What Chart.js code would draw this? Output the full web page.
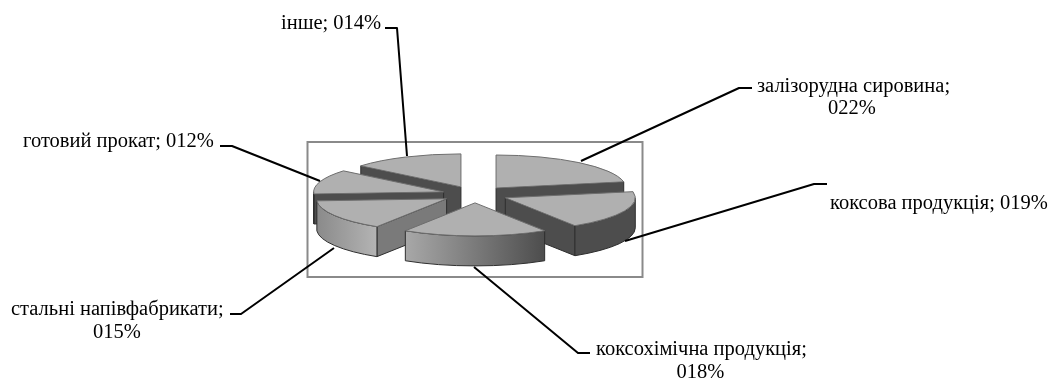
<!DOCTYPE html>
<html lang="uk">
<head>
<meta charset="utf-8">
<title>Структура</title>
<script src="https://cdn.jsdelivr.net/npm/chart.js@4/dist/chart.umd.min.js"></script>
<style>
  html, body { margin: 0; padding: 0; background: #fff; }
  canvas { display: block; }
</style>
</head>
<body>
<canvas id="chart" width="1064" height="379"></canvas>
<script>
// Slices, clockwise from twelve o'clock
const categories = ['залізорудна сировина', 'коксова продукція', 'коксохімічна продукція',
                    'стальні напівфабрикати', 'готовий прокат', 'інше'];
const shares = [22, 19, 18, 15, 12, 14];

// Painter's order for the tilted disc, rear slices first
const paintOrder = [0, 5, 4, 1, 3, 2];

const topColor = '#b0b0b0';
const radialWallColors = ['#4d4d4d', '#4d4d4d', '#4d4d4d', '#7a7a7a', '#4d4d4d', '#4d4d4d'];
const rimStops = [
  ['#4d4d4d', '#4d4d4d'], ['#4d4d4d', '#4d4d4d'], ['#a8a8a8', '#4d4d4d'],
  ['#8a8a8a', '#b4b4b4'], ['#4d4d4d', '#4d4d4d'], ['#4d4d4d', '#4d4d4d']
];

const TILT = 0.254;      // vertical squash of the disc
const DEPTH = 30;        // wall height, px
const EXPLODE = 33;      // slice pull-out, in disc units
const FRAME = { left: 307.5, top: 142, right: 642.5, bottom: 277 };

// Callout text: left x, first baseline y, position of a value wrapped to a second line
const callouts = [
  { x: 757, y: 92,  wrapX: 852, wrapY: 114 },
  { x: 830, y: 209 },
  { x: 596, y: 355, wrapX: 700.5, wrapY: 378 },
  { x: 11,  y: 315, wrapX: 117, wrapY: 338 },
  { x: 23,  y: 147 },
  { x: 281, y: 29 }
];
const leaderPaths = [
  [[752, 88], [739, 88], [581, 161]],
  [[827, 184], [814, 184], [625, 241]],
  [[590, 353], [578, 353], [474, 267]],
  [[230, 314], [241, 314], [334, 248]],
  [[220, 146], [232, 146], [320, 181]],
  [[385, 28], [397, 28], [407, 156]]
];

const formatShare = v => String(v).padStart(3, '0') + '%';

function sliceGeometry(arc) {
  const mid = (arc.startAngle + arc.endAngle) / 2;
  return {
    a: arc.startAngle, b: arc.endAngle, mid,
    ox: Math.cos(mid) * EXPLODE,
    oy: Math.sin(mid) * EXPLODE,
    cx: arc.x + Math.cos(mid) * EXPLODE,
    cy: arc.y + Math.sin(mid) * EXPLODE * TILT,
    rx: arc.outerRadius,
    ry: arc.outerRadius * TILT
  };
}

function drawRadialWall(ctx, g, angle, color) {
  const ex = g.cx + Math.cos(angle) * g.rx;
  const ey = g.cy + Math.sin(angle) * g.ry;
  ctx.beginPath();
  ctx.moveTo(g.cx, g.cy);
  ctx.lineTo(ex, ey);
  ctx.lineTo(ex, ey + DEPTH);
  ctx.lineTo(g.cx, g.cy + DEPTH);
  ctx.closePath();
  ctx.fillStyle = color;
  ctx.fill();
  ctx.lineWidth = 1;
  ctx.strokeStyle = '#2e2e2e';
  ctx.stroke();
}

function drawRim(ctx, g, stops) {
  const lo = Math.max(g.a, 0), hi = Math.min(g.b, Math.PI);
  if (lo >= hi) return;
  const x0 = g.cx + Math.cos(hi) * g.rx, x1 = g.cx + Math.cos(lo) * g.rx;
  const grad = ctx.createLinearGradient(x0, 0, x1, 0);
  grad.addColorStop(0, stops[0]);
  grad.addColorStop(1, stops[1]);
  ctx.beginPath();
  ctx.ellipse(g.cx, g.cy, g.rx, g.ry, 0, lo, hi);
  ctx.ellipse(g.cx, g.cy + DEPTH, g.rx, g.ry, 0, hi, lo, true);
  ctx.closePath();
  ctx.fillStyle = grad;
  ctx.fill();
  ctx.lineWidth = 1;
  ctx.strokeStyle = '#2e2e2e';
  ctx.stroke();
}

function outlineTop(ctx, g) {
  ctx.beginPath();
  ctx.moveTo(g.cx, g.cy);
  ctx.ellipse(g.cx, g.cy, g.rx, g.ry, 0, g.a, g.b);
  ctx.closePath();
  ctx.lineWidth = 1;
  ctx.strokeStyle = '#6e6e6e';
  ctx.stroke();
}

// Draws the library's arcs on a squashed plane and extrudes walls beneath them
const tiltedDisc = {
  id: 'tiltedDisc',
  beforeDatasetsDraw(chart) {
    const ctx = chart.ctx;
    ctx.save();
    ctx.lineWidth = 2;
    ctx.strokeStyle = '#8a8a8a';
    ctx.strokeRect(FRAME.left, FRAME.top, FRAME.right - FRAME.left, FRAME.bottom - FRAME.top);
    ctx.restore();
  },
  beforeDatasetDraw(chart, args) {
    const ctx = chart.ctx;
    const arcs = args.meta.data;
    paintOrder.forEach(i => {
      const arc = arcs[i];
      const g = sliceGeometry(arc);
      ctx.save();
      // Only walls turned toward the viewer are painted
      if (Math.cos(g.a) < -1e-6) drawRadialWall(ctx, g, g.a, radialWallColors[i]);
      if (Math.cos(g.b) > 1e-6) drawRadialWall(ctx, g, g.b, radialWallColors[i]);
      drawRim(ctx, g, rimStops[i]);
      ctx.translate(arc.x, arc.y);
      ctx.scale(1, TILT);
      ctx.translate(-arc.x, -arc.y);
      ctx.translate(g.ox, g.oy);
      arc.draw(ctx);
      ctx.restore();
      outlineTop(ctx, g);
    });
    return false;
  },
  afterDatasetsDraw(chart) {
    const ctx = chart.ctx;
    ctx.save();
    ctx.lineWidth = 2;
    ctx.strokeStyle = '#000';
    ctx.lineJoin = 'round';
    leaderPaths.forEach(path => {
      ctx.beginPath();
      path.forEach((p, n) => n ? ctx.lineTo(p[0], p[1]) : ctx.moveTo(p[0], p[1]));
      ctx.stroke();
    });
    ctx.fillStyle = '#000';
    ctx.font = '20.5px "Liberation Serif", "Times New Roman", serif';
    ctx.textBaseline = 'alphabetic';
    categories.forEach((name, i) => {
      const c = callouts[i];
      const value = formatShare(shares[i]);
      ctx.textAlign = 'left';
      if (c.wrapX !== undefined) {
        ctx.fillText(name + ';', c.x, c.y);
        ctx.textAlign = 'center';
        ctx.fillText(value, c.wrapX, c.wrapY);
      } else {
        ctx.fillText(name + '; ' + value, c.x, c.y);
      }
    });
    ctx.restore();
  }
};

new Chart(document.getElementById('chart'), {
  type: 'pie',
  data: {
    labels: categories,
    datasets: [{
      data: shares,
      backgroundColor: topColor,
      borderWidth: 0
    }]
  },
  options: {
    responsive: false,
    animation: false,
    radius: 130,
    layout: { padding: { left: 0, right: 114, top: 10, bottom: 0 } },
    plugins: { legend: { display: false }, tooltip: { enabled: false } }
  },
  plugins: [tiltedDisc]
});
</script>
</body>
</html>
